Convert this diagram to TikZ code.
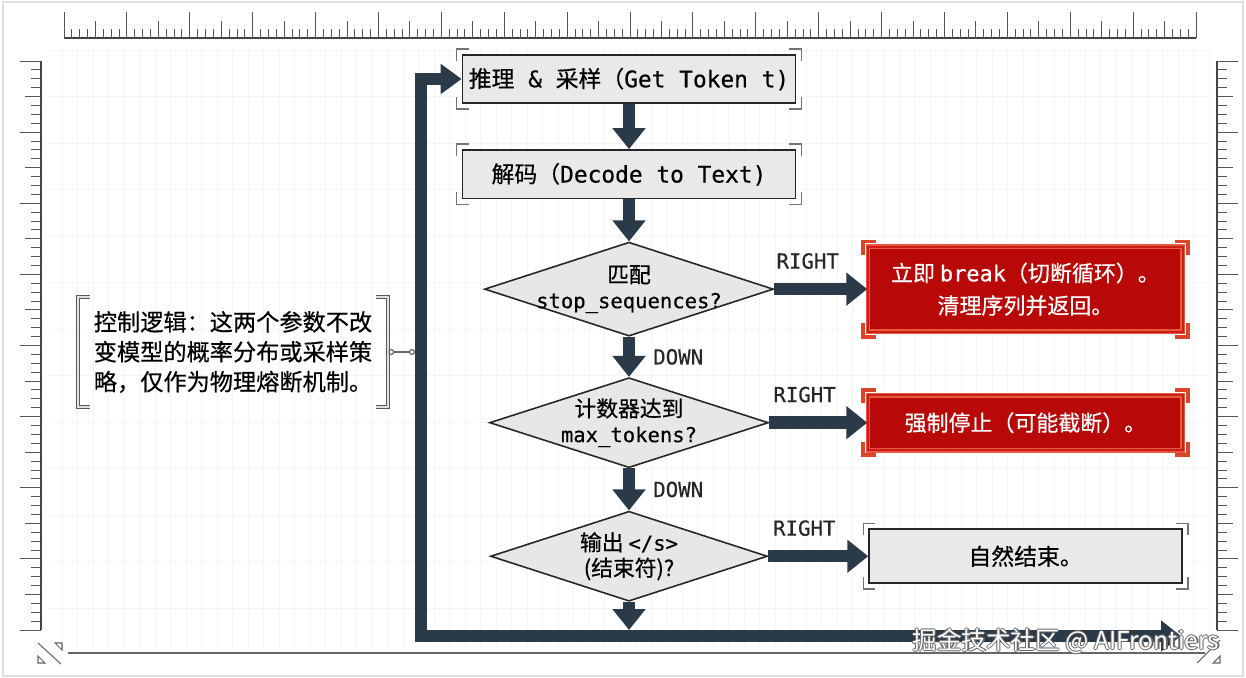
\documentclass[tikz,border=0pt]{standalone}
\usepackage{fontspec}
\setmainfont{Noto Sans CJK SC}[FakeBold=0.5]
\newfontfamily\monofnt{DejaVu Sans Mono}[FakeBold=0.4]
\newfontfamily\markfnt{Noto Sans CJK SC}
\usetikzlibrary{arrows.meta, shapes.geometric, positioning}

\definecolor{arrowc}{HTML}{2B3A48}
\definecolor{boxfill}{HTML}{E9E9E9}
\definecolor{boxline}{HTML}{262626}
\definecolor{dfill}{HTML}{E7E7E7}
\definecolor{redfill}{HTML}{B80808}
\definecolor{redline}{HTML}{E9573F}
\definecolor{redcorner}{HTML}{D9452B}
\definecolor{tickc}{HTML}{555555}

\newcommand{\txtbig}{\fontsize{13pt}{16pt}\selectfont}
\newcommand{\txtmid}{\fontsize{12.4pt}{14.5pt}\selectfont}
\newcommand{\monomid}{\monofnt\fontsize{11.7pt}{14.5pt}\selectfont}

% corner brackets round a node: #1 node, #2 style, #3 offset, #4 arm
\newcommand{\boxcorners}[4]{%
  \foreach \a/\sx/\sy in {north west/-1/1, north east/1/1, south west/-1/-1, south east/1/-1}
    \draw[#2] ([shift={(\sx*#3,\sy*#3-\sy*#4)}]#1.\a) -- ++(0,\sy*#4) -- ++(-\sx*#4,0);
}
% white text with a grey rim
\newcommand{\rimtext}[1]{%
  \makebox[0pt][l]{\color{black!60}\raisebox{0.7pt}{#1}}%
  \makebox[0pt][l]{\color{black!60}\raisebox{-0.7pt}{#1}}%
  \makebox[0pt][l]{\color{black!60}\hspace*{0.7pt}#1}%
  \makebox[0pt][l]{\color{black!60}\hspace*{-0.7pt}#1}%
  {\color{white}#1}}

\begin{document}
\begin{tikzpicture}[x=0.02cm, y=-0.02cm,
    node distance=0.85cm,
    procbox/.style={rectangle, draw=boxline, fill=boxfill, line width=1pt,
                    minimum width=6.66cm, minimum height=0.97cm, font=\txtbig},
    decision/.style={diamond, draw=boxline, fill=dfill, line width=0.9pt, inner sep=0pt},
    dlabel/.style={align=center, font=\txtmid, inner sep=0pt},
    alertbox/.style={rectangle, draw=redline, fill=redfill, line width=0.8pt,
                     double=redfill!70!redline, double distance=1.2pt,
                     minimum width=6.3cm, text=white, align=center, font=\fontsize{12.5pt}{15pt}\selectfont},
    flow/.style={draw=arrowc, line width=0.25cm, -{Triangle[length=0.42cm, width=0.64cm]}},
    loopline/.style={draw=arrowc, line width=0.24cm, line join=miter,
                     {Triangle[length=0.4cm, width=0.6cm]}-{Triangle[length=0.42cm, width=0.58cm]}},
    flowlabel/.style={font=\monofnt\fontsize{11.8pt}{13pt}\selectfont, inner sep=0pt, text=boxline},
    graybrk/.style={draw=black!55, line width=0.8pt},
    redbrk/.style={draw=redcorner, line width=2.2pt},
    notebrk/.style={draw=black!65, double=black!12, double distance=1pt, line width=0.6pt},
    notelink/.style={draw=black!60, line width=0.7pt,
                     {Circle[open, length=0.12cm]}-{Circle[open, length=0.12cm]}},
    rulertick/.style={draw=tickc, line width=0.5pt},
    rulerbase/.style={draw=tickc!80!black, line width=1.1pt},
    gridline/.style={draw=black!4, line width=0.3pt}
]
\useasboundingbox (0,0) rectangle (1246,678);

% paper, grid and rulers
\draw[black!12, line width=0.6pt] (3,2) rectangle (1243,676);
\foreach \gx in {62,77.5,...,1210}
  \draw[gridline] (\gx,48) -- (\gx,648);
\foreach \gy in {50,96.5,...,650}
  \draw[gridline] (48,\gy) -- (1210,\gy);

\draw[rulerbase] (64,38) -- (1196,38);
\foreach \i in {0,...,144}{
  \pgfmathsetmacro\tx{64+\i*7.861}
  \pgfmathsetmacro\tl{mod(\i,8)==0 ? 26 : (mod(\i,4)==0 ? 17 : 9)}
  \draw[rulertick] (\tx,38) -- ++(0,-\tl);
}
\draw[rulerbase] (41,61) -- (41,630);
\draw[rulerbase] (1217,61) -- (1217,630);
\foreach \i in {0,...,64}{
  \pgfmathsetmacro\ty{61+\i*8.89}
  \pgfmathsetmacro\tl{mod(\i,8)==0 ? 21 : (mod(\i,4)==0 ? 16 : 10)}
  \draw[rulertick] (41,\ty) -- ++(-\tl,0);
  \draw[rulertick] (1217,\ty) -- ++(\tl,0);
}
\draw[black!60, line width=0.7pt] (68,653) -- (1205,653);
\draw[black!60, line width=0.6pt] (38,643) -- (61,664);
\draw[black!60, line width=0.6pt] (55,643) -- (62,643) -- (62,650) -- cycle;
\draw[black!60, line width=0.6pt] (38,656) -- (38,663) -- (45,663) -- cycle;
\draw[black!60, line width=0.6pt] (1197,663) -- (1220,640);
\draw[black!60, line width=0.6pt] (1220,656) -- (1220,663) -- (1213,663) -- cycle;

% main flow
\node[procbox] (sample) at (629,79) {推理{\monofnt\ \&\ }采样（{\monofnt Get Token t)}};
\node[procbox, below=0.9cm of sample] (decode) {解码（{\monofnt Decode to Text)}};
\node[decision, minimum width=5.78cm, minimum height=1.88cm, below=0.84cm of decode,
      label={[dlabel]center:{匹配\\\monomid stop\_sequences?}}] (stopq) {};
\node[decision, minimum width=5.58cm, minimum height=1.8cm, below=0.8cm of stopq,
      label={[dlabel]center:{计数器达到\\\monomid max\_tokens?}}] (maxq) {};
\node[decision, minimum width=5.54cm, minimum height=1.8cm, below=0.84cm of maxq,
      label={[dlabel]center:{输出 {\monomid </s>}\\(结束符)?}}] (eosq) {};

\node[alertbox, minimum height=1.7cm, right=1.86cm of stopq,
      font=\fontsize{12.5pt}{18.5pt}\selectfont] (brk) {立即 {\monofnt break}（切断循环）。\\清理序列并返回。};
\node[alertbox, minimum height=1.1cm, right=1.96cm of maxq] (force) {强制停止（可能截断）。};
\node[procbox, minimum width=6.26cm, minimum height=1.08cm, right=2cm of eosq] (natural) {自然结束。};

\boxcorners{sample}{graybrk}{0.1cm}{0.24cm}
\boxcorners{decode}{graybrk}{0.1cm}{0.24cm}
\boxcorners{natural}{graybrk}{0.1cm}{0.24cm}
\boxcorners{brk}{redbrk}{0.09cm}{0.27cm}
\boxcorners{force}{redbrk}{0.09cm}{0.27cm}

\draw[flow] (sample) -- (decode);
\draw[flow] (decode) -- (stopq);
\draw[flow] (stopq) -- node[flowlabel, right=0.36cm] (down1) {DOWN} (maxq);
\draw[flow] (maxq) -- node[flowlabel, right=0.36cm] (down2) {DOWN} (eosq);
\draw[flow] (stopq.east) -- node[flowlabel, pos=0.36, above=0.28cm] (right1) {RIGHT} (stopq.east -| brk.west);
\draw[flow] (maxq.east) -- node[flowlabel, pos=0.36, above=0.28cm] (right2) {RIGHT} (maxq.east -| force.west);
\draw[flow] (eosq.east) -- node[flowlabel, pos=0.36, above=0.28cm] (right3) {RIGHT} (eosq.east -| natural.west);

% loop back to sampling
\coordinate (loopR) at (1181,636);
\coordinate (loopL) at (421,636);
\coordinate (barpt) at (415,352);
\draw[loopline] (loopR) -- (loopL) |- (sample.west);
\draw[flow] (eosq.south) -- ([yshift=0.12cm]eosq.south |- loopL);

% side note
\node[align=left, font=\fontsize{13.2pt}{17pt}\selectfont, minimum width=6.2cm, minimum height=2.18cm,
      inner sep=0pt] (note) at (233,352) {控制逻辑：这两个参数不改\\变模型的概率分布或采样策\\略，仅作为物理熔断机制。};
\draw[notebrk] ([xshift=0.24cm]note.north west) -- (note.north west) -- (note.south west) -- ++(0.24cm,0);
\draw[notebrk] ([xshift=-0.24cm]note.north east) -- (note.north east) -- (note.south east) -- ++(-0.24cm,0);
\draw[notelink] (note.east) -- (barpt);

% watermark
\node[font=\markfnt\fontsize{14pt}{16pt}\selectfont, inner sep=0pt] (mark) at (1066,641) {\rimtext{掘金技术社区 @ AIFrontiers}};
\end{tikzpicture}
\end{document}
